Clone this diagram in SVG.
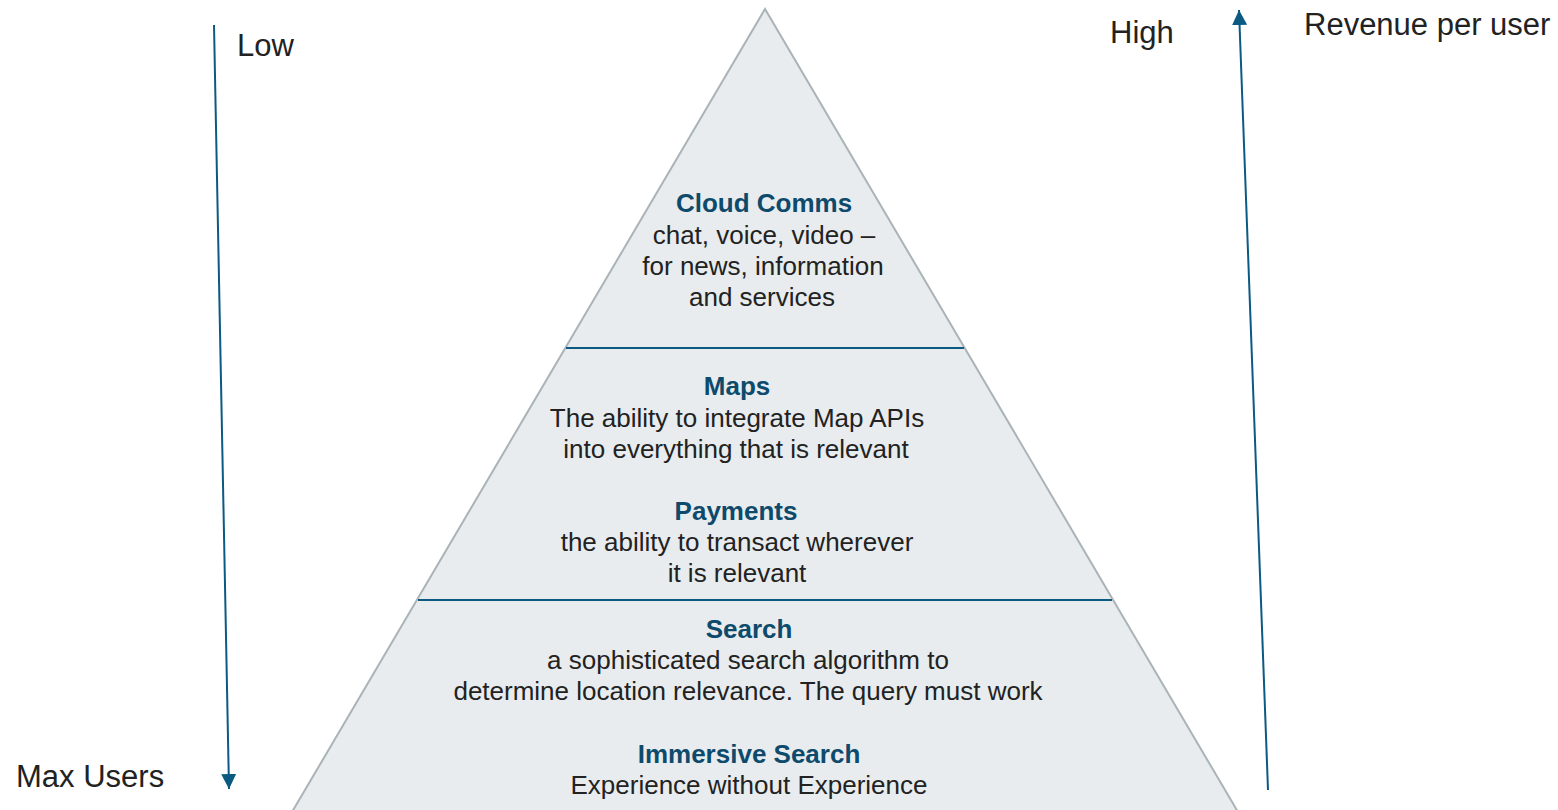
<svg xmlns="http://www.w3.org/2000/svg" width="1558" height="810" viewBox="0 0 1558 810">
<defs>
<style>
.t{font-family:"Liberation Sans",Arial,sans-serif;font-size:26px;font-weight:bold;fill:#0d4a6b;text-anchor:middle}
.b{font-family:"Liberation Sans",Arial,sans-serif;font-size:26px;fill:#222;text-anchor:middle}
.l{font-family:"Liberation Sans",Arial,sans-serif;font-size:31px;fill:#222}
.div{stroke:#0b5a82;stroke-width:2}
.ax{stroke:#0b5a82;stroke-width:2;fill:none}
</style>
<marker id="ah2" viewBox="0 0 10 10" refX="10" refY="5" markerWidth="15" markerHeight="15" markerUnits="userSpaceOnUse" orient="auto">
<path d="M0,0 L10,5 L0,10 z" fill="#0b5a82"/>
</marker>
</defs>
<rect width="1558" height="810" fill="#fff"/>
<g id="pyramid">
<polygon points="765,9 292,812 1238,812" fill="#e8ecee" stroke="#aab3b8" stroke-width="2"/>
<line class="div" x1="566" y1="348" x2="964" y2="348"/>
<line class="div" x1="418" y1="600" x2="1112" y2="600"/>
</g>
<g id="connectors">
<line class="ax" x1="214" y1="25" x2="229" y2="789" marker-end="url(#ah2)"/>
<line class="ax" x1="1268" y1="790" x2="1239" y2="10" marker-end="url(#ah2)"/>
</g>
<g id="cloud-comms">
<text class="t" x="764" y="212">Cloud Comms</text>
<text class="b" x="764" y="244">chat, voice, video –</text>
<text class="b" x="763" y="275">for news, information</text>
<text class="b" x="762" y="306">and services</text>
</g>
<g id="maps">
<text class="t" x="737" y="395">Maps</text>
<text class="b" x="737" y="427">The ability to integrate Map APIs</text>
<text class="b" x="736" y="458">into everything that is relevant</text>
</g>
<g id="payments">
<text class="t" x="736" y="520">Payments</text>
<text class="b" x="737" y="551">the ability to transact wherever</text>
<text class="b" x="737" y="582">it is relevant</text>
</g>
<g id="search">
<text class="t" x="749" y="638">Search</text>
<text class="b" x="748" y="669">a sophisticated search algorithm to</text>
<text class="b" x="748" y="700">determine location relevance. The query must work</text>
</g>
<g id="immersive-search">
<text class="t" x="749" y="763">Immersive Search</text>
<text class="b" x="749" y="794">Experience without Experience</text>
</g>
<g id="labels">
<text class="l" x="237" y="56">Low</text>
<text class="l" x="1110" y="43">High</text>
<text class="l" x="1304" y="35">Revenue per user</text>
<text class="l" x="16" y="787">Max Users</text>
</g>
</svg>
